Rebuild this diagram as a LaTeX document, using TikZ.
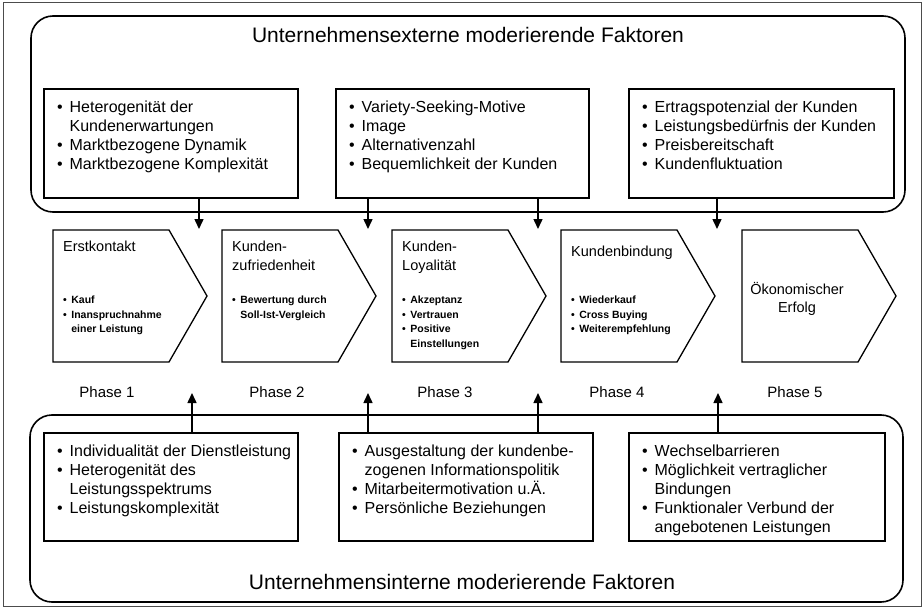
\documentclass[tikz,border=0pt]{standalone}
\usepackage{fontspec}
\setmainfont{Liberation Sans}
\usetikzlibrary{arrows.meta}
\newcommand\bitem[1]{\makebox[0.78em][l]{\textbullet}#1}
\newcommand\bcont[1]{\hspace*{0.78em}#1}
\newcommand\chevpath[2]{%
  \draw[chev] (#1,230) -- ++(116,0) -- ++(38,66) -- ++(-38,66) -- ++(-116,0) -- cycle;
  \coordinate (#2) at (#1,230);}
\begin{document}
\begin{tikzpicture}[x=1pt,y=-1pt,
  container/.style={draw, line width=1.6pt, rounded corners=22pt},
  fbox/.style={draw, line width=1.6pt, fill=white, anchor=north west, inner sep=0pt},
  btext/.style={anchor=north west, inner sep=0pt, align=left, font=\fontsize{16}{19}\selectfont},
  chev/.style={draw, line width=1.3pt},
  ctitle/.style={anchor=north west, inner sep=0pt, align=left, font=\fontsize{14.5}{19}\selectfont},
  cbul/.style={anchor=north west, inner sep=0pt, align=left, font=\bfseries\fontsize{10.5}{14.5}\selectfont},
  phase/.style={font=\fontsize{15}{18}\selectfont},
  ftitle/.style={font=\fontsize{21}{24}\selectfont},
  arr/.style={line width=1.5pt, -{Triangle[length=10pt,width=9pt]}}]
\path[use as bounding box, fill=white] (0,0) rectangle (924,615);
\draw[line width=1pt, black!70] (3,3) rectangle (921,606);

% containers
\draw[container] (31,16) rectangle (905,212);
\draw[container] (30,415) rectangle (903,602);
\node[ftitle] (ext) at (468,35) {Unternehmensexterne moderierende Faktoren};
\node[ftitle] (int) at (462,582) {Unternehmensinterne moderierende Faktoren};

% external factor boxes
\node[fbox, minimum width=254pt, minimum height=109pt] (e1) at (43,88) {};
\node[fbox, minimum width=253pt, minimum height=109pt] (e2) at (335,88) {};
\node[fbox, minimum width=265pt, minimum height=109pt] (e3) at (628,88) {};
\node[btext] (e1t) at (57,101) {\bitem{Heterogenität der}\\\bcont{Kundenerwartungen}\\\bitem{Marktbezogene Dynamik}\\\bitem{Marktbezogene Komplexität}};
\node[btext] (e2t) at (349,101) {\bitem{Variety-Seeking-Motive}\\\bitem{Image}\\\bitem{Alternativenzahl}\\\bitem{Bequemlichkeit der Kunden}};
\node[btext] (e3t) at (642,101) {\bitem{Ertragspotenzial der Kunden}\\\bitem{Leistungsbedürfnis der Kunden}\\\bitem{Preisbereitschaft}\\\bitem{Kundenfluktuation}};

% internal factor boxes
\node[fbox, minimum width=254pt, minimum height=108pt] (i1) at (43,432) {};
\node[fbox, minimum width=254pt, minimum height=108pt] (i2) at (338,432) {};
\node[fbox, minimum width=256pt, minimum height=108pt] (i3) at (628,432) {};
\node[btext] (i1t) at (57,445) {\bitem{Individualität der Dienstleistung}\\\bitem{Heterogenität des}\\\bcont{Leistungsspektrums}\\\bitem{Leistungskomplexität}};
\node[btext] (i2t) at (352,445) {\bitem{Ausgestaltung der kundenbe-}\\\bcont{zogenen Informationspolitik}\\\bitem{Mitarbeitermotivation u.Ä.}\\\bitem{Persönliche Beziehungen}};
\node[btext] (i3t) at (642,445) {\bitem{Wechselbarrieren}\\\bitem{Möglichkeit vertraglicher}\\\bcont{Bindungen}\\\bitem{Funktionaler Verbund der}\\\bcont{angebotenen Leistungen}};

% phases (chevrons)
\chevpath{53}{c1}
\chevpath{222}{c2}
\chevpath{392}{c3}
\chevpath{561}{c4}
\chevpath{742}{c5}
\node[ctitle] (c1h) at (63,241) {Erstkontakt};
\node[ctitle] (c2h) at (232,241) {Kunden-\\zufriedenheit};
\node[ctitle] (c3h) at (402,241) {Kunden-\\Loyalität};
\node[ctitle] (c4h) at (571,246) {Kundenbindung};
\node[font=\fontsize{14.5}{18}\selectfont, align=center] (c5h) at (797,299) {Ökonomischer\\Erfolg};
\node[cbul] (c1b) at (63,296) {\bitem{Kauf}\\\bitem{Inanspruchnahme}\\\bcont{einer Leistung}};
\node[cbul] (c2b) at (232,296) {\bitem{Bewertung durch}\\\bcont{Soll-Ist-Vergleich}};
\node[cbul] (c3b) at (402,296) {\bitem{Akzeptanz}\\\bitem{Vertrauen}\\\bitem{Positive}\\\bcont{Einstellungen}};
\node[cbul] (c4b) at (571,296) {\bitem{Wiederkauf}\\\bitem{Cross Buying}\\\bitem{Weiterempfehlung}};

\node[phase] (p1) at (107,392) {Phase 1};
\node[phase] (p2) at (277,392) {Phase 2};
\node[phase] (p3) at (445,392) {Phase 3};
\node[phase] (p4) at (617,392) {Phase 4};
\node[phase] (p5) at (795,392) {Phase 5};

% arrows
\coordinate (t1) at (199,229);
\coordinate (t2) at (368,229);
\coordinate (t3) at (538,229);
\coordinate (t4) at (717,229);
\draw[arr] (e1.south -| t1) -- (t1);
\draw[arr] (e2.south -| t2) -- (t2);
\draw[arr] (e2.south -| t3) -- (t3);
\draw[arr] (e3.south -| t4) -- (t4);
\coordinate (b1) at (192,393);
\coordinate (b2) at (368,393);
\coordinate (b3) at (538,393);
\coordinate (b4) at (718,393);
\draw[arr] (i1.north -| b1) -- (b1);
\draw[arr] (i2.north -| b2) -- (b2);
\draw[arr] (i2.north -| b3) -- (b3);
\draw[arr] (i3.north -| b4) -- (b4);
\end{tikzpicture}
\end{document}
